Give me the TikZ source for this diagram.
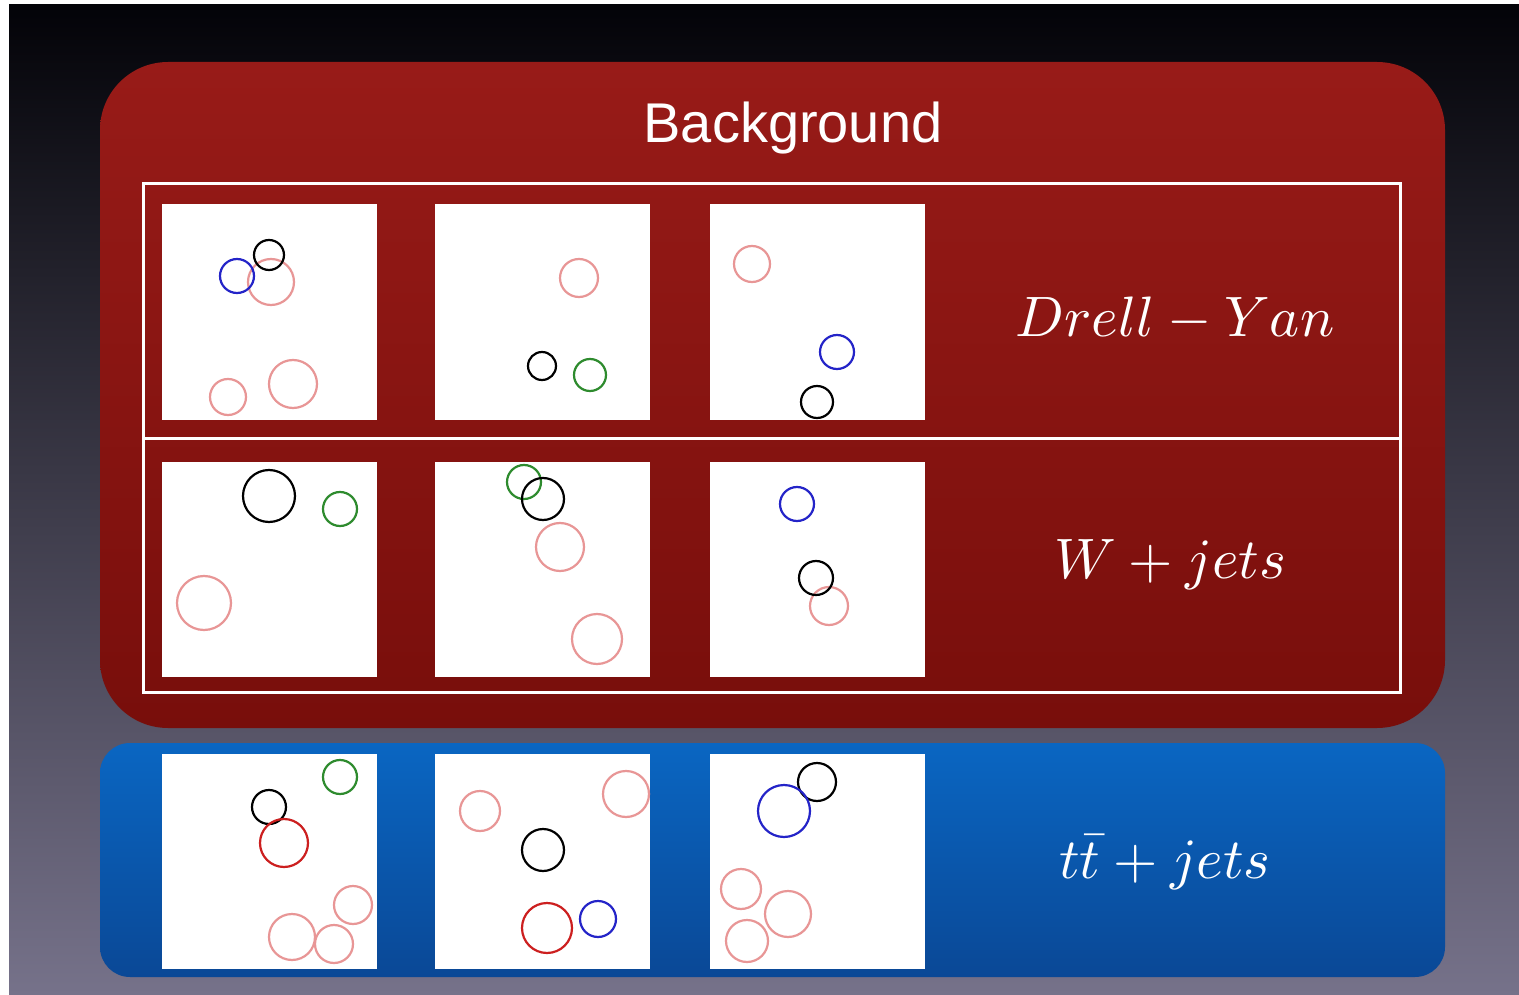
\documentclass[tikz,border=0pt]{standalone}
\usepackage{fontspec}
\newfontfamily\headfont{Liberation Sans}
\definecolor{bgtop}{RGB}{3,3,8}
\definecolor{bgmid}{RGB}{38,42,70}
\definecolor{bgbot}{RGB}{118,114,138}
\definecolor{redtop}{RGB}{152,27,24}
\definecolor{redbot}{RGB}{120,14,11}
\definecolor{bluetop}{RGB}{10,102,194}
\definecolor{bluebot}{RGB}{10,72,150}
\definecolor{jetpink}{RGB}{232,150,150}
\definecolor{jetblue}{RGB}{36,36,200}
\definecolor{jetgreen}{RGB}{46,139,46}
\definecolor{jetred}{RGB}{204,31,31}
\begin{document}
\begin{tikzpicture}[x=1pt,y=-1pt,
  panel/.style={fill=white,draw=none,minimum size=215pt,inner sep=0pt},
  jet/.style={line width=2.2pt},
  pk/.style={jet,draw=jetpink},
  bk/.style={jet,draw=black},
  bl/.style={jet,draw=jetblue},
  gr/.style={jet,draw=jetgreen},
  rd/.style={jet,draw=jetred},
  mathlabel/.style={text=white,scale=5.7,anchor=base,inner sep=0pt},
  frameline/.style={draw=white,line width=3pt}]
\useasboundingbox (0,0) rectangle (1519,995);
\fill[white] (0,0) rectangle (1519,995);
\shade[top color=bgtop,middle color=bgmid,bottom color=bgbot] (9,5) rectangle (1519,995);

% background group (red) and signal-like group (blue)
\shade[rounded corners=68pt,top color=redtop,bottom color=redbot] (100,62) rectangle (1445,728);
\shade[rounded corners=30pt,top color=bluetop,bottom color=bluebot] (100,743) rectangle (1445,977);

\node[text=white,anchor=base,inner sep=0pt,font=\headfont\fontsize{56}{60}\selectfont] (title) at (793,143) {Background};

% frame around the two background rows
\draw[frameline] (143,184) rectangle (1400,692);
\draw[frameline] (143,438) -- (1400,438);

% event panels
\foreach \r/\y in {1/312,2/569.5,3/861}{
  \foreach \c/\x in {1/269.5,2/542.5,3/817.5}{
    \node[panel] (p\r\c) at (\x,\y) {};
  }
}

% row 1
\draw[pk] (271,282) circle[radius=23pt];
\draw[bk] (269,255) circle[radius=15pt];
\draw[bl] (237,276) circle[radius=17pt];
\draw[pk] (228,397) circle[radius=18pt];
\draw[pk] (293,384) circle[radius=24pt];

\draw[pk] (579,278) circle[radius=19pt];
\draw[bk] (542,366) circle[radius=14pt];
\draw[gr] (590,375) circle[radius=16pt];

\draw[pk] (752,264) circle[radius=18pt];
\draw[bl] (837,352) circle[radius=17pt];
\draw[bk] (817,402) circle[radius=16pt];

% row 2
\draw[bk] (269,496) circle[radius=26pt];
\draw[gr] (340,509) circle[radius=17pt];
\draw[pk] (204,603) circle[radius=27pt];

\draw[gr] (524,482) circle[radius=17pt];
\draw[bk] (543,499) circle[radius=21pt];
\draw[pk] (560,547) circle[radius=24pt];
\draw[pk] (597,639) circle[radius=25pt];

\draw[bl] (797,504) circle[radius=17pt];
\draw[pk] (829,606) circle[radius=19pt];
\draw[bk] (816,578) circle[radius=17pt];

% row 3
\draw[gr] (340,777) circle[radius=17pt];
\draw[bk] (269,807) circle[radius=17pt];
\draw[rd] (284,843) circle[radius=24pt];
\draw[pk] (353,905) circle[radius=19pt];
\draw[pk] (292,937) circle[radius=23pt];
\draw[pk] (334,944) circle[radius=19pt];

\draw[pk] (480,811) circle[radius=20pt];
\draw[pk] (626,794) circle[radius=23pt];
\draw[bk] (543,850) circle[radius=21pt];
\draw[rd] (547,928) circle[radius=25pt];
\draw[bl] (598,919) circle[radius=18pt];

\draw[bk] (817,782) circle[radius=19pt];
\draw[bl] (784,811) circle[radius=26pt];
\draw[pk] (741,889) circle[radius=20pt];
\draw[pk] (788,914) circle[radius=23pt];
\draw[pk] (747,941) circle[radius=21pt];

% process labels
\node[mathlabel] (dy) at (1175,337) {$Drell - Yan$};
\node[mathlabel] (wj) at (1170,578) {$W + jets$};
\node[mathlabel] (tt) at (1165,878) {$t\bar{t} + jets$};
\end{tikzpicture}
\end{document}
